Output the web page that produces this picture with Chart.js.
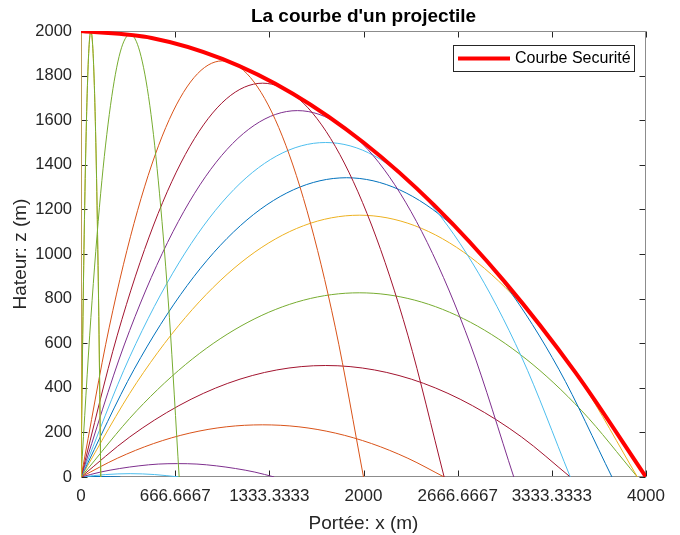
<!DOCTYPE html>
<html>
<head>
<meta charset="utf-8">
<script src="https://cdn.jsdelivr.net/npm/chart.js@4"></script>
<style>
  html, body { margin: 0; padding: 0; background: #fff; }
</style>
</head>
<body>
<canvas id="projChart" width="680" height="535"></canvas>
<script>
// axis ticks
const xTicks = [0, 666.6667, 1333.3333, 2000, 2666.6667, 3333.3333, 4000];
const xTickLabels = ["0", "666.6667", "1333.3333", "2000", "2666.6667", "3333.3333", "4000"];
const yTicks = [0, 200, 400, 600, 800, 1000, 1200, 1400, 1600, 1800, 2000];

// enveloppe (courbe de sécurité)
const safetyX = [0, 500, 1000, 1500, 2000, 2500, 3000, 3500, 4000];
const safetyZ = [2000, 1969, 1875, 1719, 1500, 1219, 875, 469, 0];

// trajectoires, une paire x/z par angle de tir
const x90 = [0, 0];
const z90 = [0, 2000];
const x89 = [0, 14, 28, 42, 56, 70, 84, 98, 112, 126, 140];
const z89 = [0, 720, 1280, 1680, 1920, 2000, 1920, 1680, 1280, 720, 0];
const x85 = [0, 70, 139, 209, 278, 348, 417, 487, 556, 626, 695];
const z85 = [0, 715, 1270, 1667, 1906, 1985, 1906, 1667, 1270, 715, 0];
const x75 = [0, 200, 400, 600, 800, 1000, 1200, 1400, 1600, 1800, 2000];
const z75 = [0, 672, 1194, 1567, 1791, 1866, 1791, 1567, 1194, 672, 0];
const x70 = [0, 257, 514, 771, 1028, 1286, 1543, 1800, 2057, 2314, 2571];
const z70 = [0, 636, 1130, 1483, 1695, 1766, 1695, 1483, 1130, 636, 0];
const x65 = [0, 306, 613, 919, 1226, 1532, 1838, 2145, 2451, 2758, 3064];
const z65 = [0, 592, 1052, 1380, 1577, 1643, 1577, 1380, 1052, 592, 0];
const x60 = [0, 346, 693, 1039, 1386, 1732, 2078, 2425, 2771, 3118, 3464];
const z60 = [0, 540, 960, 1260, 1440, 1500, 1440, 1260, 960, 540, 0];
const x55 = [0, 376, 752, 1128, 1504, 1880, 2255, 2631, 3007, 3383, 3759];
const z55 = [0, 483, 859, 1127, 1288, 1342, 1288, 1127, 859, 483, 0];
const x50 = [0, 394, 788, 1182, 1576, 1970, 2363, 2757, 3151, 3545, 3939];
const z50 = [0, 423, 751, 986, 1127, 1174, 1127, 986, 751, 423, 0];
const x40 = [0, 394, 788, 1182, 1576, 1970, 2363, 2757, 3151, 3545, 3939];
const z40 = [0, 297, 529, 694, 793, 826, 793, 694, 529, 297, 0];
const x30 = [0, 346, 693, 1039, 1386, 1732, 2078, 2425, 2771, 3118, 3464];
const z30 = [0, 180, 320, 420, 480, 500, 480, 420, 320, 180, 0];
const x20 = [0, 257, 514, 771, 1028, 1286, 1543, 1800, 2057, 2314, 2571];
const z20 = [0, 84, 150, 197, 225, 234, 225, 197, 150, 84, 0];
const x10 = [0, 137, 274, 410, 547, 684, 821, 958, 1094, 1231, 1368];
const z10 = [0, 22, 38, 50, 58, 60, 58, 50, 38, 22, 0];
const x5 = [0, 174, 348, 521, 695];
const z5 = [0, 11, 15, 11, 0];
const x2 = [0, 140, 279];
const z2 = [0, 2.4, 0];
const x1 = [0, 70, 140];
const z1 = [0, 0.6, 0];

// couleurs par défaut de MATLAB
const C = {
  blue: "#0072BD", orange: "#D95319", yellow: "#EDB120", purple: "#7E2F8E",
  green: "#77AC30", cyan: "#4DBEEE", maroon: "#A2142F",
};

function curve(xs, zs, color) {
  return {
    data: xs.map((x, i) => ({ x: x, y: zs[i] })),
    borderColor: color,
    borderWidth: 1,
    pointRadius: 0,
    fill: false,
    cubicInterpolationMode: "monotone",
  };
}

const safety = {
  label: "Courbe Securité",
  data: safetyX.map((x, i) => ({ x: x, y: safetyZ[i] })),
  borderColor: "#FF0000",
  borderWidth: 4,
  pointRadius: 0,
  fill: false,
  cubicInterpolationMode: "monotone",
  order: -1,
};

const datasets = [
  curve(x90, z90, C.yellow),
  curve(x89, z89, C.green),
  curve(x89, z89, C.yellow),
  curve(x85, z85, C.green),
  curve(x75, z75, C.orange),
  curve(x70, z70, C.maroon),
  curve(x65, z65, C.purple),
  curve(x60, z60, C.cyan),
  curve(x55, z55, C.blue),
  curve(x50, z50, C.yellow),
  curve(x40, z40, C.green),
  curve(x30, z30, C.maroon),
  curve(x20, z20, C.orange),
  curve(x10, z10, C.purple),
  curve(x5, z5, C.cyan),
  curve(x2, z2, C.blue),
  curve(x1, z1, C.green),
  safety,
];

const FONT = "'Liberation Sans', Arial, Helvetica, sans-serif";
const TXT = "#262626";

// cadre, graduations vers l'intérieur, titre et légende
const matlabAxes = {
  id: "matlabAxes",
  beforeDatasetsDraw(chart) {
    const { ctx, chartArea: a, scales } = chart;
    const L = a.left + 0.5, R = a.right - 0.5, T = a.top + 0.5, B = a.bottom - 0.5;
    ctx.save();
    ctx.lineWidth = 1;
    ctx.strokeStyle = "#262626";
    ctx.beginPath();
    xTicks.forEach((v) => {
      const px = Math.round(scales.x.getPixelForValue(v)) + 0.5;
      ctx.moveTo(px, B); ctx.lineTo(px, B - 6);
      ctx.moveTo(px, T); ctx.lineTo(px, T + 6);
    });
    yTicks.forEach((v) => {
      const py = Math.round(scales.y.getPixelForValue(v)) + 0.5;
      ctx.moveTo(L, py); ctx.lineTo(L + 6, py);
      ctx.moveTo(R, py); ctx.lineTo(R - 6, py);
    });
    ctx.stroke();
    ctx.strokeStyle = "#8c8c8c";
    ctx.strokeRect(L, T, R - L, B - T);
    ctx.restore();
  },
  afterDraw(chart) {
    const { ctx, chartArea: a } = chart;
    ctx.save();
    ctx.fillStyle = "#000";
    ctx.font = "bold 19px " + FONT;
    ctx.textAlign = "center";
    ctx.textBaseline = "alphabetic";
    ctx.fillText("La courbe d'un projectile", (a.left + a.right) / 2, 22);

    // légende
    const bx = 453, by = 45, bw = 181, bh = 26;
    ctx.fillStyle = "#fff";
    ctx.fillRect(bx, by, bw, bh);
    ctx.strokeStyle = "#262626";
    ctx.lineWidth = 1;
    ctx.strokeRect(bx + 0.5, by + 0.5, bw, bh);
    ctx.strokeStyle = safety.borderColor;
    ctx.lineWidth = 4;
    ctx.beginPath();
    ctx.moveTo(458, by + 13.5);
    ctx.lineTo(510, by + 13.5);
    ctx.stroke();
    ctx.fillStyle = "#000";
    ctx.font = "16px " + FONT;
    ctx.textAlign = "left";
    ctx.textBaseline = "middle";
    ctx.fillText(safety.label, 515, by + 14);
    ctx.restore();
  },
};

new Chart(document.getElementById("projChart"), {
  type: "line",
  data: { datasets: datasets },
  options: {
    responsive: false,
    animation: false,
    layout: { padding: { top: 31, right: 34, left: 0, bottom: 0 } },
    plugins: { legend: { display: false }, title: { display: false }, tooltip: { enabled: false } },
    scales: {
      x: {
        type: "linear",
        min: 0,
        max: 4000,
        grid: { display: false, drawTicks: false },
        border: { display: false },
        afterBuildTicks: (scale) => { scale.ticks = xTicks.map((v) => ({ value: v })); },
        afterFit: (scale) => { scale.height = 58; },
        ticks: {
          color: TXT,
          font: { family: FONT, size: 17 },
          padding: 9,
          maxRotation: 0,
          autoSkip: false,
          callback: (v, i) => xTickLabels[i],
        },
        title: {
          display: true,
          text: "Portée: x (m)",
          color: TXT,
          font: { family: FONT, size: 19 },
          padding: { top: 3, bottom: 0 },
        },
      },
      y: {
        min: 0,
        max: 2000,
        grid: { display: false, drawTicks: false },
        border: { display: false },
        afterBuildTicks: (scale) => { scale.ticks = yTicks.map((v) => ({ value: v })); },
        afterFit: (scale) => { scale.width = 81; },
        ticks: {
          color: TXT,
          font: { family: FONT, size: 16.5 },
          padding: 9,
          autoSkip: false,
          callback: (v) => String(v),
        },
        title: {
          display: true,
          text: "Hateur: z (m)",
          color: TXT,
          font: { family: FONT, size: 19 },
          padding: { top: 9, bottom: 0 },
        },
      },
    },
  },
  plugins: [matlabAxes],
});
</script>
</body>
</html>
